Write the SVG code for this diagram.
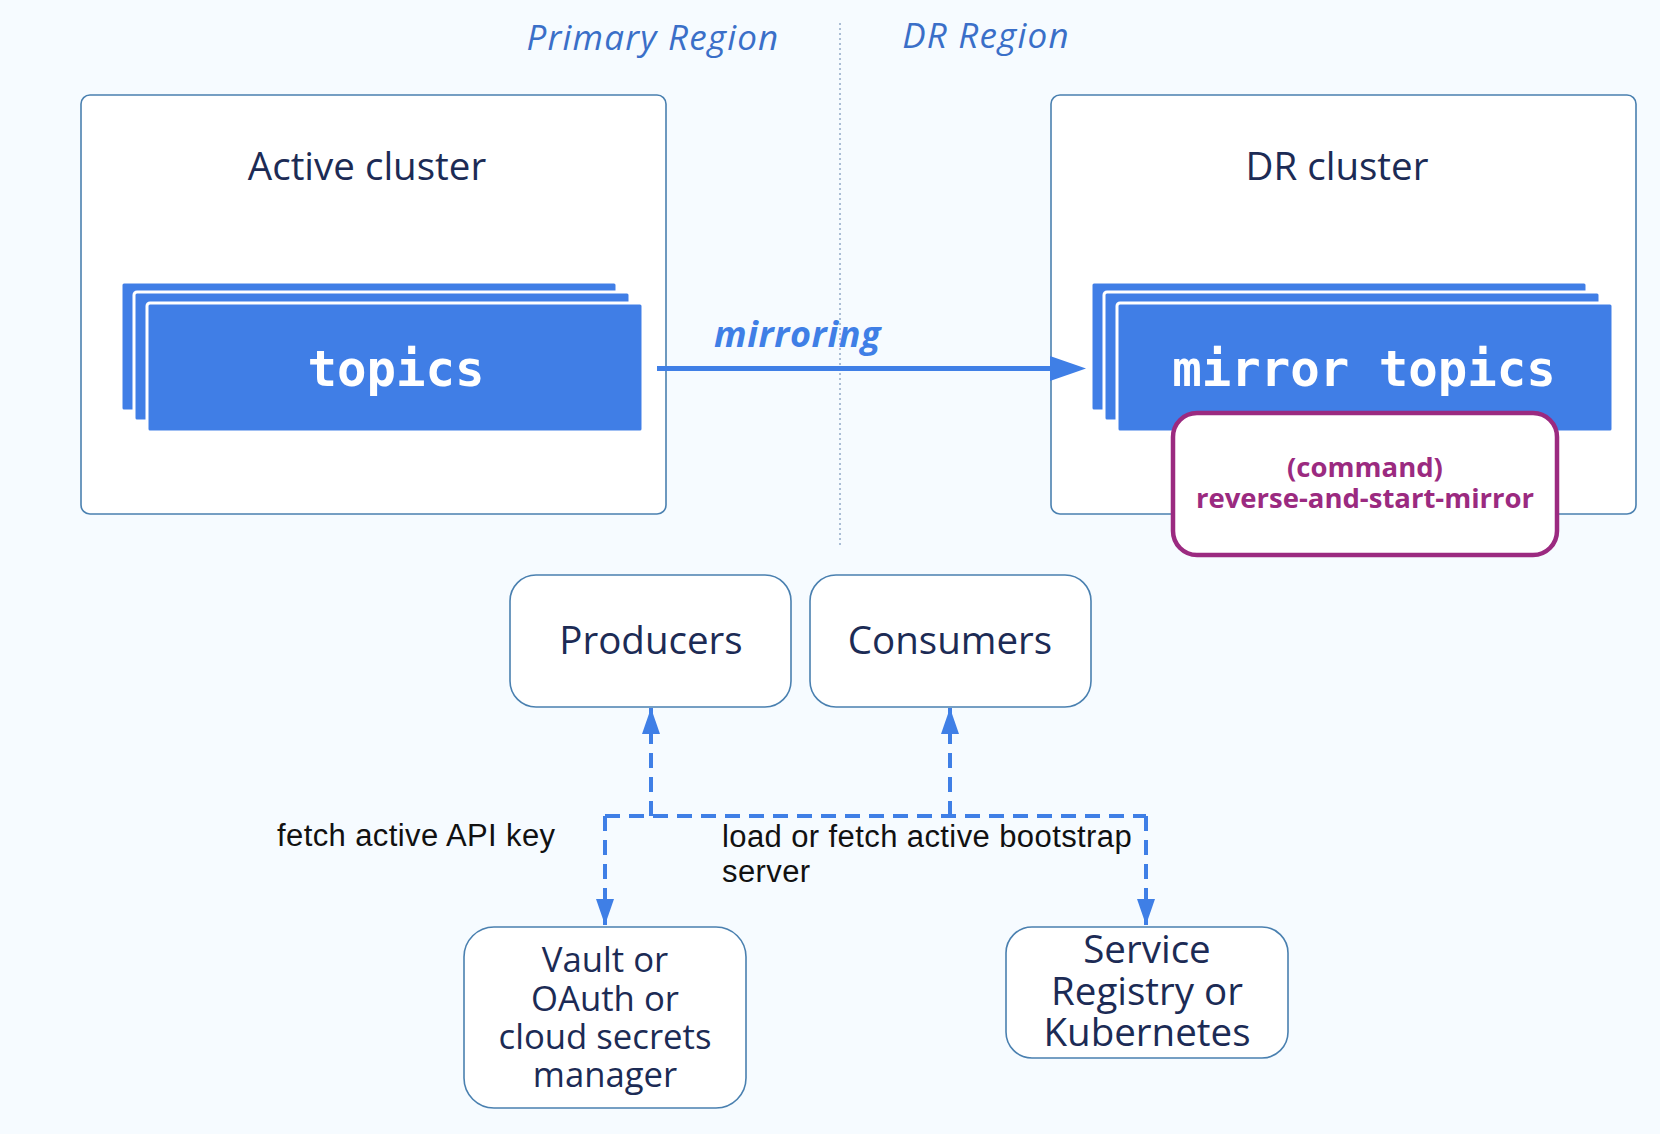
<svg xmlns="http://www.w3.org/2000/svg" width="1660" height="1134" viewBox="0 0 1660 1134">
  <style>
    .node { fill: #ffffff; stroke: #4a80b0; stroke-width: 1.6; }
    .lbl { font-family: "Open Sans", "Noto Sans", sans-serif; fill: #1c2b55; text-anchor: middle; }
    .region { font-family: "Open Sans", "Noto Sans", sans-serif; font-style: italic; fill: #3a6fc8; font-size: 35px; letter-spacing: 1.2px; text-anchor: middle; }
    .topic { fill: #407ee6; stroke: #ffffff; stroke-width: 3; }
    .mono { font-family: "DejaVu Sans Mono", "Liberation Mono", monospace; font-weight: bold; fill: #ffffff; font-size: 49px; text-anchor: middle; }
    .edge { font-family: "Liberation Sans", Arial, sans-serif; fill: #111111; font-size: 31px; letter-spacing: 0.4px; }
    .dash { fill: none; stroke: #3f7fe6; stroke-width: 4; stroke-dasharray: 15 9; }
    .cmd { font-family: "Open Sans", "Noto Sans", sans-serif; font-weight: bold; fill: #9b2a80; font-size: 27.5px; text-anchor: middle; }
  </style>
  <defs>
    <marker id="arrow" markerUnits="userSpaceOnUse" markerWidth="28" markerHeight="20" refX="26" refY="9" orient="auto">
      <path d="M0,0 L26,9 L0,18 z" fill="#3f7fe6"/>
    </marker>
  </defs>

  <rect x="0" y="0" width="1660" height="1134" fill="#f6fbff"/>

  <g id="regions">
    <line x1="840" y1="23" x2="840" y2="548" stroke="#98aecb" stroke-width="1.6" stroke-dasharray="2 3"/>
    <text class="region" x="653" y="50">Primary Region</text>
    <text class="region" x="986" y="48">DR Region</text>
  </g>

  <g id="active-cluster">
    <rect class="node" x="81" y="95" width="585" height="419" rx="9"/>
    <text class="lbl" x="367" y="180" font-size="38.5">Active cluster</text>
  </g>

  <g id="topics">
    <rect class="topic" x="121" y="282" width="496" height="129" rx="3"/>
    <rect class="topic" x="134" y="292" width="496" height="129" rx="3"/>
    <rect class="topic" x="147" y="303" width="496" height="129" rx="3"/>
    <text class="mono" x="396" y="386">topics</text>
  </g>

  <g id="dr-cluster">
    <rect class="node" x="1051" y="95" width="585" height="419" rx="9"/>
    <text class="lbl" x="1337" y="180" font-size="38.5">DR cluster</text>
  </g>

  <g id="mirror-topics">
    <rect class="topic" x="1091" y="282" width="496" height="129" rx="3"/>
    <rect class="topic" x="1104" y="292" width="496" height="129" rx="3"/>
    <rect class="topic" x="1117" y="303" width="496" height="129" rx="3"/>
    <text class="mono" x="1364" y="386">mirror topics</text>
  </g>

  <g id="command">
    <rect x="1173" y="413" width="384" height="142" rx="24" fill="#ffffff" stroke="#9b2a80" stroke-width="4.5"/>
    <text class="cmd" x="1365" y="477">(command)</text>
    <text class="cmd" x="1365" y="508">reverse-and-start-mirror</text>
  </g>

  <g id="producers">
    <rect class="node" x="510" y="575" width="281" height="132" rx="26"/>
    <text class="lbl" x="651" y="654" font-size="38.5">Producers</text>
  </g>

  <g id="consumers">
    <rect class="node" x="810" y="575" width="281" height="132" rx="26"/>
    <text class="lbl" x="950" y="654" font-size="38.5">Consumers</text>
  </g>

  <g id="vault">
    <rect class="node" x="464" y="927" width="282" height="181" rx="30"/>
    <text class="lbl" x="605" y="972" font-size="34.7">Vault or</text>
    <text class="lbl" x="605" y="1011" font-size="34.7">OAuth or</text>
    <text class="lbl" x="605" y="1049" font-size="34.7">cloud secrets</text>
    <text class="lbl" x="605" y="1087" font-size="34.7">manager</text>
  </g>

  <g id="service-registry">
    <rect class="node" x="1006" y="927" width="282" height="131" rx="26"/>
    <text class="lbl" x="1147" y="963" font-size="38.5">Service</text>
    <text class="lbl" x="1147" y="1005" font-size="38.5">Registry or</text>
    <text class="lbl" x="1147" y="1046" font-size="38.5">Kubernetes</text>
  </g>

  <g id="connectors">
    <line x1="657" y1="368.5" x2="1052" y2="368.5" stroke="#3f7fe6" stroke-width="5"/>
    <path d="M1050,356 L1086,368.5 L1050,381 z" fill="#3f7fe6"/>
    <text x="714" y="347" font-family="Open Sans, Noto Sans, sans-serif" font-weight="bold" font-style="italic" font-size="36" letter-spacing="0.6" fill="#3f7fe6">mirroring</text>

    <path class="dash" d="M605,816 L1146,816"/>
    <path class="dash" d="M651,816 L651,708" marker-end="url(#arrow)"/>
    <path class="dash" d="M950,816 L950,708" marker-end="url(#arrow)"/>
    <path class="dash" d="M605,816 L605,925" marker-end="url(#arrow)"/>
    <path class="dash" d="M1146,816 L1146,925" marker-end="url(#arrow)"/>

    <text class="edge" x="277" y="846">fetch active API key</text>
    <text class="edge" x="722" y="847">load or fetch active bootstrap</text>
    <text class="edge" x="722" y="882">server</text>
  </g>
</svg>
